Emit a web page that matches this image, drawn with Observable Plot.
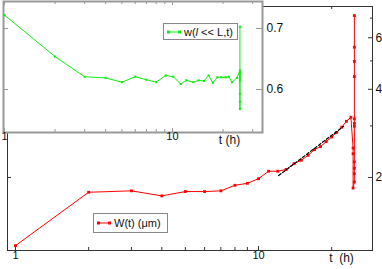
<!DOCTYPE html>
<html><head><meta charset="utf-8">
<script src="https://cdn.jsdelivr.net/npm/d3@7"></script>
<script src="https://cdn.jsdelivr.net/npm/@observablehq/plot@0.6"></script>
<style>
body{margin:0;background:#fff;font-family:"Liberation Sans",Arial,sans-serif;}
#wrap{position:relative;width:382px;height:269px;overflow:hidden;background:#fff;}
#wrap svg.plotsvg{position:absolute;left:0;top:0;}
.legend{position:absolute;background:#fff;border:1px solid #888;font-size:11px;display:flex;align-items:center;box-sizing:border-box;white-space:nowrap;color:#111;}
.legend svg{margin:0 3px 0 3px;}
</style></head><body><div id="wrap"></div>
<script>
// Main series: W(t) in µm vs t in hours
const hoursMain = [1,2,3,4,5,6,7,8,9,10,11,12,13,14,15,16,17,18,19,20,21,22,23,24,24.5,24.5,24.5,24.8,24.8,24.8,24.8,24.8,24.8,24.8,24.8,24.8,24.8,24.8];
const widthMain = [1.17,1.78,1.80,1.73,1.79,1.79,1.80,1.88,1.91,1.98,2.10,2.10,2.13,2.23,2.29,2.38,2.49,2.55,2.65,2.75,2.85,2.97,3.11,3.21,2.52,2.41,1.84,1.93,2.06,2.15,2.26,2.99,3.06,3.17,4.42,4.98,5.57,7.14];
// Power-law fit (dashed)
const fitHours = [12.1, 22.4];
const fitWidth = [2.03, 2.99];
// Inset series: w(l << L, t)
const hoursInset = [1,2,3,4,5,6,7,8,9.1,10.1,11.2,12.1,13.3,14.3,15.4,16.4,17.4,18.5,19.5,20.7,21.6,22.6,24.2,25.2,25.2,25.2,25.2,25.2,25.2,25.2,25.2,25.2];
const wInset = [0.722,0.654,0.621,0.619,0.612,0.621,0.616,0.612,0.623,0.621,0.609,0.615,0.612,0.615,0.614,0.623,0.611,0.620,0.620,0.620,0.621,0.612,0.619,0.631,0.627,0.623,0.618,0.615,0.593,0.580,0.568,0.703];
// Ticks and labels
const mainXMajor = [1, 10];
const mainXMinor = [2,3,4,5,6,7,8,9,20];
const mainYMajor = [2, 4, 6];
const mainYMinor = [3, 5, 7];
const insetXMajor = [1, 10];
const insetXMinor = [2,3,4,5,6,7,8,9,20,30];
const insetYMajor = [0.6, 0.7];
const xTitle = "t\u00a0\u00a0(h)";
const insetXTitle = "t (h)";

const mainData = hoursMain.map((t, i) => ({t, w: widthMain[i]}));
const fitData = fitHours.map((t, i) => ({t, w: fitWidth[i]}));
const insetData = hoursInset.map((t, i) => ({t, w: wInset[i]}));

const W = 382, H = 269;
const mL = 7, mR = 10, mT = 6, mB = 19;
const fw = W - mL - mR, fh = H - mT - mB;
const axisColor = "#333";
const green = "#11ee11";
const font = "Liberation Sans, Arial, sans-serif";

const main = Plot.plot({
  width: W, height: H,
  marginLeft: mL, marginRight: mR, marginTop: mT, marginBottom: mB,
  style: {background: "white", fontFamily: font, fontSize: "11px", overflow: "visible"},
  x: {type: "log", domain: [0.927, 29.45], axis: null},
  y: {type: "log", domain: [1.126, 7.67], axis: null},
  marks: [
    Plot.frame({stroke: axisColor, strokeWidth: 1}),
    Plot.tickX(mainXMajor, {x: d => d, stroke: axisColor, insetTop: fh - 4}),
    Plot.tickX(mainXMinor, {x: d => d, stroke: axisColor, insetTop: fh - 3}),
    Plot.tickX(mainXMajor, {x: d => d, stroke: axisColor, insetBottom: fh - 4}),
    Plot.tickX(mainXMinor, {x: d => d, stroke: axisColor, insetBottom: fh - 3}),
    Plot.tickY(mainYMajor, {y: d => d, stroke: axisColor, insetLeft: fw - 4}),
    Plot.tickY(mainYMinor, {y: d => d, stroke: axisColor, insetLeft: fw - 2}),
    Plot.tickY(mainYMajor, {y: d => d, stroke: axisColor, insetRight: fw - 4}),
    Plot.tickY(mainYMinor, {y: d => d, stroke: axisColor, insetRight: fw - 2}),
    Plot.text(mainXMajor, {x: d => d, frameAnchor: "bottom", dy: 8, text: d => String(d), fill: "#111"}),
    Plot.text(mainYMajor, {y: d => d, frameAnchor: "right", dx: 3, textAnchor: "start", text: d => String(d), fill: "#111", fontSize: 12}),
    Plot.text([xTitle], {frameAnchor: "bottom-right", dx: -31, dy: 11, text: d => d, textAnchor: "middle", fill: "#111", fontSize: 12}),
    Plot.line(mainData, {x: "t", y: "w", stroke: "#ff0000", strokeWidth: 1}),
    Plot.dot(mainData, {x: "t", y: "w", symbol: "square", r: 1.6, fill: "#ff0000", stroke: "none"}),
    Plot.line(fitData, {x: "t", y: "w", stroke: "black", strokeWidth: 1.2, strokeDasharray: "3,2"})
  ]
});
main.classList.add("plotsvg");

const iW = 300, iH = 152;
const iL = 3, iR = 38, iT = 1, iB = 20;
const ifw = iW - iL - iR, ifh = iH - iT - iB;
const insetColor = "#999";
const inset = Plot.plot({
  width: iW, height: iH,
  marginLeft: iL, marginRight: iR, marginTop: iT, marginBottom: iB,
  style: {background: "transparent", fontFamily: font, fontSize: "11px", overflow: "visible"},
  x: {type: "log", domain: [0.9864, 34.34], axis: null},
  y: {domain: [0.5295, 0.7443], axis: null},
  marks: [
    Plot.frame({fill: "white", stroke: insetColor, strokeWidth: 2}),
    Plot.tickX(insetXMajor, {x: d => d, stroke: insetColor, insetTop: ifh - 4}),
    Plot.tickX(insetXMinor, {x: d => d, stroke: insetColor, insetTop: ifh - 3}),
    Plot.tickX(insetXMajor, {x: d => d, stroke: insetColor, insetBottom: ifh - 4}),
    Plot.tickX(insetXMinor, {x: d => d, stroke: insetColor, insetBottom: ifh - 3}),
    Plot.tickY(insetYMajor, {y: d => d, stroke: insetColor, insetLeft: ifw - 6}),
    Plot.tickY(insetYMajor, {y: d => d, stroke: insetColor, insetRight: ifw - 5}),
    Plot.text(insetXMajor, {x: d => d, frameAnchor: "bottom", dy: 7, text: d => String(d), fill: "#111"}),
    Plot.text(insetYMajor, {y: d => d, frameAnchor: "right", dx: 4, textAnchor: "start", text: d => d.toFixed(1), fill: "#111", fontSize: 12}),
    Plot.text([insetXTitle], {frameAnchor: "bottom-right", dx: -33, dy: 11, text: d => d, textAnchor: "middle", fill: "#111", fontSize: 12}),
    Plot.line(insetData, {x: "t", y: "w", stroke: green, strokeWidth: 1}),
    Plot.dot(insetData, {x: "t", y: "w", symbol: "square", r: 1.2, fill: green, stroke: "none"})
  ]
});
inset.classList.add("plotsvg");

const wrap = document.getElementById("wrap");
wrap.appendChild(main);
wrap.appendChild(inset);

function legend(left, top, width, height, color, html) {
  const div = document.createElement("div");
  div.className = "legend";
  Object.assign(div.style, {left: left + "px", top: top + "px", width: width + "px", height: height + "px"});
  div.innerHTML = `<svg width="14" height="6"><line x1="1.5" x2="12.5" y1="3" y2="3" stroke="${color}" stroke-width="1"/><rect x="0" y="1.5" width="3" height="3" fill="${color}"/><rect x="11" y="1.5" width="3" height="3" fill="${color}"/></svg><span>${html}</span>`;
  wrap.appendChild(div);
}
legend(93, 213, 75, 20, "#ff0000", "W(t) (\u03bcm)");
legend(163, 23, 75, 17, green, "w(<i>l</i> &lt;&lt; L,t)");
</script>
</body></html>
